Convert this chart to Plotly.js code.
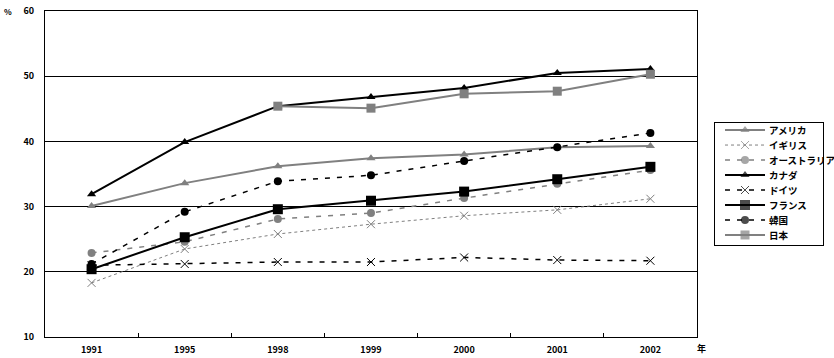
<!DOCTYPE html>
<html><head><meta charset="utf-8">
<script src="https://cdn.plot.ly/plotly-3.0.1.min.js"></script>
<style>body{margin:0;background:#fff}#c{width:834px;height:358px}</style>
</head><body><div id="c"></div>
<script>
const years = ['1991','1995','1998','1999','2000','2001','2002'];
const names = ['アメリカ','イギリス','オーストラリア','カナダ','ドイツ','フランス','韓国','日本'];
const america   = [30.1, 33.6, 36.2, 37.4, 38.0, 39.1, 39.3];
const uk        = [18.3, 23.5, 25.8, 27.3, 28.6, 29.5, 31.2];
const australia = [22.9, 24.6, 28.1, 29.0, 31.3, 33.5, 35.6];
const canada    = [31.9, 39.9, 45.4, 46.8, 48.2, 50.5, 51.1];
const germany   = [21.0, 21.2, 21.5, 21.5, 22.2, 21.8, 21.7];
const france    = [20.4, 25.3, 29.6, 30.9, 32.3, 34.2, 36.1];
const korea     = [21.2, 29.2, 33.9, 34.8, 37.0, 39.1, 41.3];
const japan     = [null, null, 45.4, 45.1, 47.3, 47.7, 50.3];
const yTicks = [10,20,30,40,50,60];

const G = '#808080', B = '#000000';
const styles = [
  {c:G, w:2, d:'solid', s:'triangle-up', ms:8},
  {c:G, w:1, d:'dot', s:'x-thin', ms:8},
  {c:G, w:1.5, d:'5px,7px', s:'circle', ms:8},
  {c:B, w:2, d:'solid', s:'triangle-up', ms:8},
  {c:B, w:1.5, d:'5px,7px', s:'x-thin', ms:8},
  {c:B, w:2, d:'solid', s:'square', ms:10},
  {c:B, w:1.5, d:'5px,7px', s:'circle', ms:8},
  {c:G, w:2, d:'solid', s:'square', ms:9}
];
const series = [america, uk, australia, canada, germany, france, korea, japan];
function mk(st, size){
  return {symbol:st.s, size:size, color:st.c,
          line:{color:st.c, width: st.s==='x-thin'?1:0}};
}
const traces = series.map((v,i)=>({
  type:'scatter', mode:'lines+markers', x:years, y:v, name:names[i],
  xaxis:'x', yaxis:'y',
  line:{color:styles[i].c, width:styles[i].w, dash:styles[i].d},
  marker:mk(styles[i], styles[i].ms),
  connectgaps:false, hoverinfo:'skip'
}));
// legend samples drawn on a small helper axis
const legX = [10, 30, 50];
names.forEach((n,i)=>{
  traces.push({
    type:'scatter', mode:'lines+markers', x:legX, y:[i,i,i], xaxis:'x2', yaxis:'y2',
    line:{color:styles[i].c, width:styles[i].w, dash:styles[i].d},
    marker:mk(styles[i], [0, styles[i].ms, 0]), hoverinfo:'skip'
  });
});
const F = {family:'"Noto Sans CJK JP", sans-serif', size:9, color:'#000', weight:'bold'};
const LF = {...F, size:9.5};
const legAnn = names.map((n,i)=>({
  text:n, xref:'x2', yref:'y2', x:52, y:i, xanchor:'left', yanchor:'middle',
  showarrow:false, font:LF
}));
const layout = {
  width:834, height:358,
  margin:{l:45, r:11, t:11, b:21},
  paper_bgcolor:'#fff', plot_bgcolor:'#fff',
  showlegend:false,
  font:F,
  xaxis:{type:'category', domain:[0, 0.838], range:[-0.5, 6.5], showgrid:false, zeroline:false,
         showline:true, linecolor:'#000', linewidth:1,
         mirror:true, ticks:'inside', tickson:'boundaries', ticklen:4, tickcolor:'#000',
         tickfont:F, ticklabelstandoff:4},
  yaxis:{range:[10,60], tickvals:yTicks, showgrid:true, gridcolor:'#000', gridwidth:1,
         zeroline:false, showline:true, linecolor:'#000', linewidth:1, mirror:true,
         ticks:'', tickfont:F, ticklabelstandoff:8},
  xaxis2:{domain:[0.8612, 1.0], anchor:'y2', range:[0,108], showgrid:false, zeroline:false,
          showticklabels:false, ticks:'', showline:true, linecolor:'#000', linewidth:1, mirror:true},
  yaxis2:{domain:[0.2822, 0.6564], anchor:'x2', range:[7.67, -0.47], showgrid:false, zeroline:false,
          showticklabels:false, ticks:'', showline:true, linecolor:'#000', linewidth:1, mirror:true},
  annotations:[
    {text:'%', xref:'paper', yref:'paper', x:-0.048, y:1.0, xanchor:'center', yanchor:'middle',
     showarrow:false, font:{...F, size:8}},
    {text:'年', xref:'paper', yref:'paper', x:0.8355, y:-0.035, xanchor:'left', yanchor:'middle',
     showarrow:false, font:F}
  ].concat(legAnn)
};
Plotly.newPlot('c', traces, layout, {displayModeBar:false, staticPlot:true});
</script></body></html>
